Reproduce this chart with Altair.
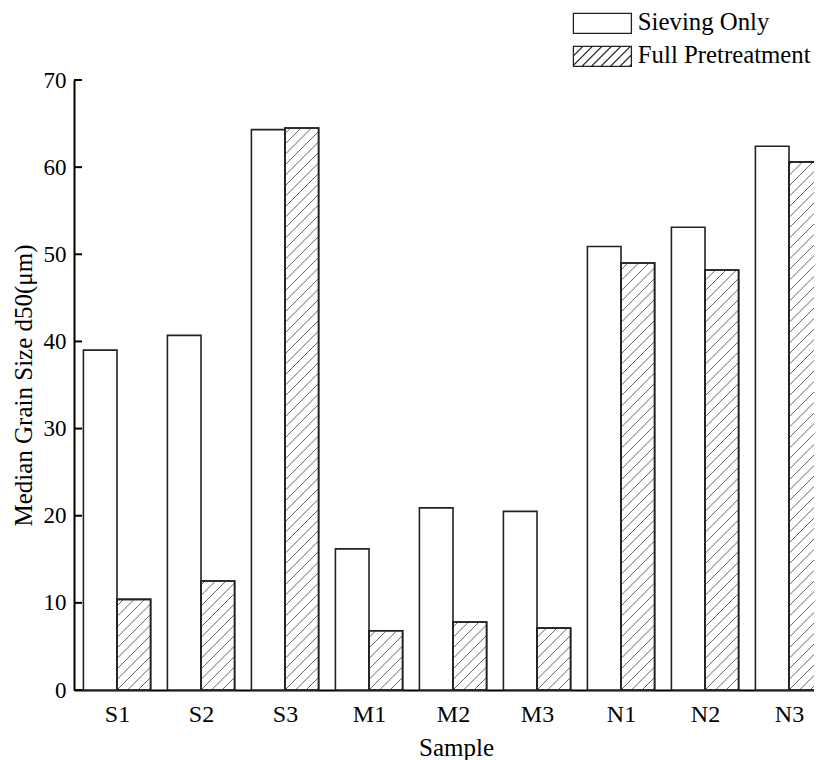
import altair as alt
import pandas as pd

# ---- data ----
samples = ["S1", "S2", "S3", "M1", "M2", "M3", "N1", "N2", "N3"]
sieving_only = [39.0, 40.7, 64.3, 16.2, 20.9, 20.5, 50.9, 53.1, 62.4]
full_pretreatment = [10.4, 12.5, 64.5, 6.8, 7.8, 7.1, 49.0, 48.2, 60.6]
series_names = ["Sieving Only", "Full Pretreatment"]
y_ticks = [0, 10, 20, 30, 40, 50, 60, 70]

# ---- layout / style ----
FONT = "Liberation Serif"
W, H = 740, 610
STEP_PX = 84.0
XMIN = -0.512
XMAX = XMIN + W / STEP_PX
YMIN, YMAX = 0, 70
BAR_W = 0.4
HATCH_SPACING = 10.5  # px
px_x = W / (XMAX - XMIN)
px_y = H / (YMAX - YMIN)

# bars table
rows = []
for i, s in enumerate(samples):
    rows.append({"sample": s, "type": series_names[0], "value": sieving_only[i],
                 "x0": i - BAR_W, "x1": i})
    rows.append({"sample": s, "type": series_names[1], "value": full_pretreatment[i],
                 "x0": i, "x1": i + BAR_W})
bars = pd.DataFrame(rows)

# hatch segments for the full-pretreatment bars (45 degree "/" lines clipped to each bar)
hrows = []
for i, v in enumerate(full_pretreatment):
    bw = BAR_W * px_x
    bh = v * px_y
    b = -int(bw // HATCH_SPACING) * HATCH_SPACING
    while b < bh:
        u0 = max(0.0, -b)
        u1 = min(bw, bh - b)
        if u1 > u0:
            hrows.append({"hx": i + u0 / px_x, "hx2": i + u1 / px_x,
                          "hy": (u0 + b) / px_y, "hy2": (u1 + b) / px_y})
        b += HATCH_SPACING
hatch = pd.DataFrame(hrows)

# legend symbol paths (unit = sqrt(symbolSize)/2 px)
HW, HH = 2.9, 1.0
rect_path = f"M{-HW},{-HH}H{HW}V{HH}H{-HW}Z"
parts = [rect_path]
c = -HW - HH + 0.95
while c < HW + HH:
    xb, yb = c - HH, HH
    if xb < -HW:
        xb, yb = -HW, c + HW
    xt, yt = c + HH, -HH
    if xt > HW:
        xt, yt = HW, c - HW
    if xt > xb:
        parts.append(f"M{xb:.3f},{yb:.3f}L{xt:.3f},{yt:.3f}")
    c += 0.95
hatched_path = "".join(parts)

xscale = alt.Scale(domain=[XMIN, XMAX], nice=False, zero=False)
yscale = alt.Scale(domain=[YMIN, YMAX], nice=False)

label_expr = "[" + ",".join(f"'{s}'" for s in samples) + "][round(datum.value)]"

x_axis = alt.Axis(values=list(range(len(samples))), labelExpr=label_expr, ticks=False,
                  grid=False, title="Sample", labelFont=FONT, labelFontSize=24,
                  labelColor="black", labelPadding=12, labelFontWeight="normal",
                  titleFont=FONT, titleFontSize=25, titleFontWeight="normal",
                  titleColor="black", titleX=382, titleY=65, titleBaseline="alphabetic",
                  domainColor="black", domainWidth=2.2)
y_axis = alt.Axis(values=y_ticks, ticks=False, grid=False,
                  title="Median Grain Size d50(μm)", labelFont=FONT, labelFontSize=23,
                  labelColor="black", labelPadding=8, titleFont=FONT, titleFontSize=25,
                  titleFontWeight="normal", titleColor="black", titleX=-43,
                  titleY=H / 2, titleBaseline="alphabetic", titleAngle=270,
                  domainColor="black", domainWidth=2)

base = alt.Chart(bars)

fill_bars = base.mark_bar(fill="white", stroke="#222", strokeWidth=1.6).encode(
    x=alt.X("x0:Q", scale=xscale, axis=x_axis),
    x2="x1:Q",
    y=alt.Y("value:Q", scale=yscale, axis=y_axis),
    y2=alt.datum(0),
)

hatch_layer = alt.Chart(hatch).mark_rule(color="#555", strokeWidth=0.9).encode(
    x=alt.X("hx:Q", scale=xscale),
    x2="hx2:Q",
    y=alt.Y("hy:Q", scale=yscale),
    y2="hy2:Q",
)

outline = base.transform_filter(alt.datum.type == series_names[1]).mark_bar(
    fillOpacity=0, stroke="#222", strokeWidth=1.6
).encode(
    x=alt.X("x0:Q", scale=xscale), x2="x1:Q",
    y=alt.Y("value:Q", scale=yscale), y2=alt.datum(0),
)

inner_ticks = alt.Chart(pd.DataFrame({"t": y_ticks})).mark_rule(
    color="black", strokeWidth=2
).encode(y=alt.Y("t:Q", scale=yscale), x=alt.value(0), x2=alt.value(8))

legend_layer = alt.Chart(pd.DataFrame({"type": series_names})).mark_point(
    filled=False, color="#222", strokeWidth=1.3, opacity=1
).encode(
    x=alt.value(-3000), y=alt.value(-3000),
    shape=alt.Shape("type:N",
                    scale=alt.Scale(domain=series_names, range=[rect_path, hatched_path]),
                    legend=alt.Legend(title=None, orient="none", legendX=516, legendY=-69,
                                      labelFont=FONT, labelFontSize=24.8, labelColor="black",
                                      labelOffset=23, labelLimit=400, symbolSize=400,
                                      symbolStrokeWidth=1.3, symbolStrokeColor="#222",
                                      symbolOpacity=1, rowPadding=7, padding=0)),
)

chart = alt.layer(fill_bars, hatch_layer, outline, inner_ticks, legend_layer).properties(
    width=W, height=H,
    background="white",
    autosize=alt.AutoSizeParams(type="none"),
    padding={"left": 66, "top": 72, "right": 0, "bottom": 70},
).configure_view(stroke=None, strokeWidth=0).configure_axis(grid=False)

chart.save("out.html", embed_options={"renderer": "svg", "actions": False})
